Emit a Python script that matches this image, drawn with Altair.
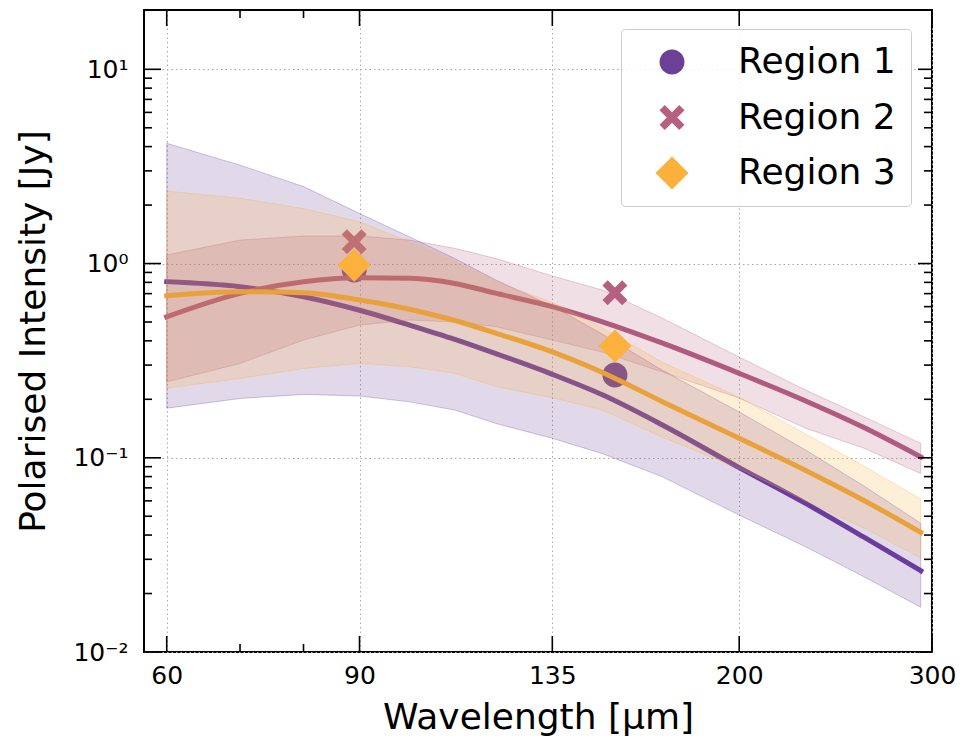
import altair as alt
import pandas as pd

regions = ["Region 1", "Region 2", "Region 3"]

# model curves (wavelength in micron)
wavelength = [60, 70, 80, 90, 100, 110, 120, 135, 150, 170, 200, 230, 260, 293]

fit_r1 = [0.806, 0.76, 0.675, 0.575, 0.482, 0.407, 0.343, 0.269, 0.211, 0.148, 0.089, 0.0582, 0.039, 0.0262]
lo_r1 = [0.18, 0.202, 0.212, 0.208, 0.194, 0.176, 0.150, 0.126, 0.105, 0.080, 0.0507, 0.0348, 0.0244, 0.017]
hi_r1 = [4.16, 3.21, 2.49, 1.81, 1.37, 1.06, 0.82, 0.604, 0.433, 0.283, 0.172, 0.1096, 0.0715, 0.046]

fit_r2 = [0.532, 0.702, 0.806, 0.845, 0.84, 0.79, 0.702, 0.60, 0.501, 0.39, 0.272, 0.196, 0.143, 0.101]
lo_r2 = [0.246, 0.306, 0.404, 0.482, 0.512, 0.50, 0.473, 0.404, 0.35, 0.277, 0.203, 0.142, 0.112, 0.083]
hi_r2 = [1.106, 1.32, 1.385, 1.385, 1.32, 1.197, 1.06, 0.863, 0.73, 0.524, 0.33, 0.223, 0.1626, 0.1186]

fit_r3 = [0.683, 0.716, 0.708, 0.649, 0.582, 0.509, 0.437, 0.351, 0.275, 0.195, 0.126, 0.0861, 0.0603, 0.0413]
lo_r3 = [0.228, 0.256, 0.288, 0.306, 0.294, 0.272, 0.232, 0.204, 0.176, 0.128, 0.088, 0.060, 0.0435, 0.0305]
hi_r3 = [2.36, 2.17, 1.92, 1.64, 1.29, 1.02, 0.806, 0.63, 0.466, 0.311, 0.205, 0.1325, 0.0906, 0.0613]

# observations
obs_wavelength = [89, 154]
obs_r1 = [0.926, 0.267]
obs_r2 = [1.295, 0.708]
obs_r3 = [0.98, 0.376]

# ticks
x_major = [60, 90, 135, 200, 300]
x_minor = [70, 80]
y_major = [0.01, 0.1, 1, 10]
y_minor = [0.02, 0.03, 0.04, 0.05, 0.06, 0.07, 0.08, 0.09,
           0.2, 0.3, 0.4, 0.5, 0.6, 0.7, 0.8, 0.9,
           2, 3, 4, 5, 6, 7, 8, 9]

marker_colors = ["#6b4096", "#b5607f", "#fbb13c"]
line_colors = ["#6a3d9c", "#b05a7e", "#e9a23b"]
shapes = [
    "M1,0A1,1,0,1,1,-1,0A1,1,0,1,1,1,0Z",
    "M-1,-0.58L-0.58,-1L0,-0.42L0.58,-1L1,-0.58L0.42,0L1,0.58L0.58,1L0,0.42L-0.58,1L-1,0.58L-0.42,0Z",
    "M0,-1.32L1.32,0L0,1.32L-1.32,0Z",
]

W, H = 788, 642
FONT = "DejaVu Sans"

xs = alt.Scale(type="log", domain=[57.2, 300], nice=False)
ys = alt.Scale(type="log", domain=[0.01, 20.2], nice=False)

x_axis = alt.Axis(
    values=x_major, format="d", labelFontSize=25, labelFont=FONT, labelColor="black",
    ticks=False, tickSize=0, domain=False, grid=True, gridColor="#a8a8a8",
    gridDash=[1.5, 3], gridWidth=1, labelPadding=31, labelBaseline="alphabetic",
    labelOverlap=False, labelFlush=False,
    title="Wavelength [μm]", titleFont=FONT, titleFontSize=36, titleFontWeight="normal",
    titleColor="black", titleX=W / 2, titleY=76, titleBaseline="alphabetic", titleAlign="center",
)
y_axis = alt.Axis(
    values=y_major,
    labelExpr="['10⁻²','10⁻¹','10⁰','10¹'][round(log(datum.value)/LN10)+2]",
    labelFontSize=25, labelFont=FONT, labelColor="black",
    ticks=False, tickSize=0, domain=False, grid=True, gridColor="#a8a8a8",
    gridDash=[1.5, 3], gridWidth=1, labelPadding=16, labelOverlap=False, labelFlush=False,
    title="Polarised Intensity [Jy]", titleFont=FONT, titleFontSize=36, titleFontWeight="normal",
    titleColor="black", titleX=-100, titleY=H / 2, titleAngle=270,
    titleBaseline="alphabetic", titleAlign="center",
)

legend = alt.Legend(
    orient="none", legendX=477, legendY=19, title=None,
    labelFontSize=36, labelFont=FONT, labelColor="black", labelLimit=400,
    symbolSize=625, symbolStrokeWidth=0, symbolOpacity=1,
    padding=15, rowPadding=19.5, symbolOffset=18, labelOffset=48,
    fillColor="rgba(255,255,255,0.85)", strokeColor="#cccccc", cornerRadius=4,
)
color_scale = alt.Scale(domain=regions, range=marker_colors)
shape_scale = alt.Scale(domain=regions, range=shapes)

fits = [fit_r1, fit_r2, fit_r3]
los = [lo_r1, lo_r2, lo_r3]
his = [hi_r1, hi_r2, hi_r3]
obs = [obs_r1, obs_r2, obs_r3]

layers = []
for i, reg in enumerate(regions):
    band = pd.DataFrame({"wl": wavelength, "fit": fits[i], "lo": los[i], "hi": his[i]})
    pts = pd.DataFrame({"wl": obs_wavelength, "val": obs[i], "region": reg})
    area = alt.Chart(band).mark_area(
        color=marker_colors[i], fillOpacity=0.2, stroke=marker_colors[i],
        strokeOpacity=0.3, strokeWidth=1, interpolate="linear",
    ).encode(
        x=alt.X("wl:Q", scale=xs, axis=x_axis),
        y=alt.Y("lo:Q", scale=ys, axis=y_axis),
        y2="hi:Q",
    )
    line = alt.Chart(band).mark_line(
        color=line_colors[i], strokeWidth=5, interpolate="monotone", strokeCap="square",
    ).encode(
        x=alt.X("wl:Q", scale=xs, axis=x_axis),
        y=alt.Y("fit:Q", scale=ys, axis=y_axis),
    )
    points = alt.Chart(pts).mark_point(
        filled=True, opacity=1, size=625, strokeWidth=0,
    ).encode(
        x=alt.X("wl:Q", scale=xs, axis=x_axis),
        y=alt.Y("val:Q", scale=ys, axis=y_axis),
        color=alt.Color("region:N", scale=color_scale, legend=legend),
        shape=alt.Shape("region:N", scale=shape_scale, legend=legend),
    )
    layers += [area, line, points]

# inward ticks on all four sides
def xticks(vals, y0, y1):
    return alt.Chart(pd.DataFrame({"v": vals})).mark_rule(color="black", strokeWidth=1.6).encode(
        x=alt.X("v:Q", scale=xs, axis=x_axis), y=alt.value(y0), y2=alt.value(y1))

def yticks(vals, x0, x1):
    return alt.Chart(pd.DataFrame({"v": vals})).mark_rule(color="black", strokeWidth=1.6).encode(
        y=alt.Y("v:Q", scale=ys, axis=y_axis), x=alt.value(x0), x2=alt.value(x1))

layers += [
    xticks(x_major, H, H - 16), xticks(x_minor, H, H - 8),
    xticks(x_major, 0, 16), xticks(x_minor, 0, 8),
    yticks(y_major, 0, 17), yticks(y_minor, 0, 8),
    yticks(y_major, W, W - 14), yticks(y_minor, W, W - 8),
]

chart = alt.layer(*layers).properties(
    width=W, height=H,
    autosize=alt.AutoSizeParams(type="none"),
    padding={"left": 144, "top": 10, "right": 31, "bottom": 91},
    background="white",
).configure_view(stroke="black", strokeWidth=2)

chart.save("out.html", embed_options={"renderer": "svg", "actions": False})
